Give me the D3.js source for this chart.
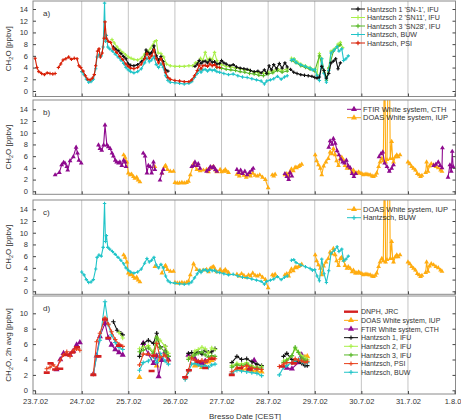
<!DOCTYPE html>
<html><head><meta charset="utf-8">
<script src="https://cdn.jsdelivr.net/npm/d3@7"></script>
<style>
body{margin:0;background:#fff}
text{font-family:"Liberation Sans",Arial,sans-serif;fill:#333}
</style></head>
<body><svg id="c" width="461" height="420"></svg>
<script>
// ---------- DATA (day offset from 23.7.02 00:00, value in ppbv); null = gap ----------
const dayLabels = ["23.7.02","24.7.02","25.7.02","26.7.02","27.7.02","28.7.02","29.7.02","30.7.02","31.7.02","1.8.02"];
const yTicksA = [0,2,4,6,8,10,12,14];
const yTicksD = [0,2,4,6,8,10];

// panel a
const psiA = [[0,5.6],[0.04,4.0],[0.08,3.3],[0.14,3.0],[0.2,2.8],[0.26,3.1],[0.32,3.0],[0.38,2.9],[0.43,3.0],null,
 [0.5,4.0],[0.55,4.6],[0.6,5.3],[0.66,5.5],[0.72,5.8],[0.78,5.4],[0.84,5.6],[0.9,5.5],[0.94,4.3],[0.98,4.0],[1.03,3.4],[1.08,2.6],[1.13,2.0],[1.18,1.9],[1.23,2.2],[1.27,2.8],[1.3,4.3],[1.34,6.8],[1.37,7.2],[1.4,5.8],[1.44,6.5],[1.48,9.0],[1.5,11.8],[1.53,9.0],[1.57,8.5],[1.62,8.3],[1.68,7.2],[1.75,6.6],[1.82,5.9],[1.88,5.4],[1.95,4.6],[2.0,4.2],[2.05,3.9],[2.12,3.8],[2.2,4.0],[2.28,4.6],[2.35,5.5],[2.4,6.4],[2.45,5.6],[2.5,6.0],[2.55,7.0],[2.6,5.5],[2.65,4.8],[2.7,5.5],[2.75,4.6],[2.8,3.2],[2.85,2.3],[2.9,2.0],[3.0,1.8],[3.1,1.7],[3.2,1.6],[3.3,1.6],[3.36,1.9],[3.42,2.6],[3.48,3.5],[3.52,4.4],[3.56,3.8],[3.6,4.3],[3.65,4.4],[3.7,4.2],[3.75,4.6],[3.8,4.3],[3.85,4.5],[3.9,4.1],[3.96,4.0]];
const buw = [[1.0,3.3],[1.05,2.8],[1.1,2.0],[1.15,1.5],[1.2,1.6],[1.25,2.0],[1.3,3.8],[1.33,5.8],[1.37,6.2],[1.42,6.0],[1.46,7.5],[1.49,15.0],[1.51,8.5],[1.53,9.5],[1.56,7.5],[1.6,7.2],[1.66,6.8],[1.72,6.3],[1.78,5.8],[1.84,5.3],[1.9,4.7],[1.95,4.0],[2.0,3.6],[2.05,3.3],[2.12,3.1],[2.2,3.3],[2.28,3.8],[2.35,4.8],[2.4,5.6],[2.45,5.0],[2.5,5.3],[2.55,5.8],[2.6,4.5],[2.65,4.0],[2.7,4.6],[2.75,4.0],[2.8,2.6],[2.85,1.8],[2.9,1.5],[3.0,1.4],[3.1,1.3],[3.2,1.2],[3.3,1.3],[3.36,1.6],[3.42,2.3],[3.48,3.0],[3.52,3.6],[3.56,3.2],[3.6,3.6],[3.65,3.7],[3.7,3.4],[3.75,3.7],[3.8,3.5],[3.85,3.6],[3.9,3.3],[3.96,3.2],[4.05,3.0],[4.15,2.8],[4.25,2.9],[4.35,2.6],[4.45,2.4],[4.55,2.3],[4.65,2.1],[4.75,1.9],[4.85,1.7],[4.92,1.2],[4.97,1.7],[5.05,1.9],[5.12,2.1],[5.2,2.5],[5.28,2.0],[5.35,2.4],[5.41,2.6],null,
 [5.5,5.3],[5.55,5.4],[5.6,4.9],[5.7,4.5],[5.8,4.2],[5.9,3.9],[5.95,3.6],[6.0,3.7],[6.05,2.6],[6.1,1.8],[6.15,5.5],[6.2,3.0],[6.25,1.5],[6.3,3.5],[6.35,6.5],[6.42,7.0],[6.48,7.6],[6.52,6.8],[6.58,7.2],[6.62,5.2],[6.67,5.5],[6.72,6.0]];
const h1A = [[1.68,7.5],[1.72,7.2],[1.78,6.9],[1.84,6.4],[1.9,5.9],[1.95,5.5],[2.0,4.6],[2.05,4.4],[2.12,4.3],[2.2,4.5],[2.28,5.0],[2.35,5.6],[2.38,7.0],[2.42,6.6],[2.46,6.3],[2.5,6.6],[2.55,7.7],[2.6,6.0],[2.65,5.3],[2.7,5.9],[2.75,5.0],[2.8,3.6],[2.85,3.4],null,
 [3.43,4.2],[3.48,4.6],[3.52,5.2],[3.56,4.7],[3.6,5.0],[3.65,5.1],[3.7,4.8],[3.75,5.3],[3.8,4.9],[3.85,5.0],[3.9,4.6],[3.96,4.7],[4.0,5.2],[4.05,4.8],[4.1,4.6],[4.18,4.3],[4.25,4.5],[4.32,4.1],[4.4,3.9],[4.48,3.8],[4.55,3.7],[4.62,3.5],[4.7,3.3],[4.78,3.4],[4.85,3.1],[4.92,3.6],[4.97,3.0],[5.02,4.3],[5.07,3.6],[5.12,4.5],[5.18,3.8],[5.24,4.7],[5.3,3.9],[5.36,4.8],[5.41,4.1],null,
 [5.48,3.7],[5.55,3.2],[5.62,3.0],[5.7,2.8],[5.78,2.7],[5.86,2.6],[5.94,2.5],[6.0,2.3],[6.05,2.2],[6.1,2.4],[6.15,4.2],[6.2,3.5],[6.25,2.2],[6.3,3.0],[6.35,4.8],[6.4,5.1],[6.45,5.5],[6.5,3.8],[6.55,4.8]];
const h2A = [[1.65,8.8],[1.7,8.2],[1.76,7.5],[1.82,7.0],[1.88,6.6],[1.94,6.2],[2.0,5.8],[2.06,5.6],[2.12,5.4],[2.2,5.3],[2.28,5.6],[2.35,6.3],[2.42,6.8],[2.48,7.3],[2.52,7.8],[2.56,8.4],[2.6,8.6],[2.64,6.5],[2.7,6.4],[2.76,5.8],[2.82,4.6],[2.9,4.3],[3.0,4.2],[3.1,4.2],[3.2,4.2],[3.3,4.3],[3.38,4.3],[3.44,4.8],[3.5,5.0],[3.55,5.6],[3.6,5.2],[3.65,6.6],[3.7,5.3],[3.75,5.6],[3.8,5.4],[3.85,6.6],[3.9,5.2],[3.95,4.6],[4.0,4.5],[4.1,4.2],[4.2,4.1],[4.3,3.9],[4.4,3.8],[4.5,3.6],[4.6,3.5],[4.7,3.2],[4.8,3.1],[4.9,3.0],[5.0,3.2],[5.1,3.4],[5.2,3.8],[5.3,3.5],[5.41,3.8],null,
 [5.5,5.6],[5.56,5.5],[5.62,5.0],[5.7,4.6],[5.8,4.3],[5.9,4.0],[6.0,3.7],[6.05,2.8],[6.1,6.4],[6.15,5.5],[6.2,3.5],[6.25,2.0],[6.3,4.0],[6.35,6.8],[6.42,7.2],[6.5,8.0],[6.55,8.3],[6.6,7.4]];
const h3A = [[3.9,4.0],[4.0,3.9],[4.1,3.7],[4.2,3.6],[4.3,3.5],[4.4,3.3],[4.5,3.2],[4.6,3.0],[4.7,2.9],[4.8,2.7],[4.9,2.6],[5.0,2.9],[5.1,3.1],[5.2,3.5],[5.3,3.2],[5.41,3.4],null,
 [5.5,5.2],[5.6,4.8],[5.7,4.3],[5.8,4.0],[5.9,3.7],[6.0,3.4],[6.1,6.0],[6.2,3.2],[6.25,1.8],[6.3,3.8],[6.4,6.8],[6.5,7.6],[6.55,7.9]];

// panels b, c
const doas = [[1.9,6.2],[1.93,5.8],[1.97,5.0],[2.0,3.1],[2.04,2.8],[2.07,2.9],[2.11,2.5],[2.14,2.2],[2.18,2.4],[2.21,1.9],[2.25,1.6],null,
 [2.57,4.2],null,[2.72,3.1],[2.78,4.2],[2.8,4.4],[2.84,3.7],[2.9,3.4],[2.97,3.4],null,
 [3.0,1.5],[3.05,1.4],[3.1,1.4],[3.15,1.5],[3.2,1.4],[3.25,1.5],[3.29,1.7],[3.33,2.8],[3.4,4.7],[3.47,3.7],[3.54,3.5],[3.61,3.6],[3.68,3.7],[3.72,3.3],[3.76,3.9],[3.8,4.1],[3.83,4.2],[3.87,3.6],[3.9,3.3],[3.97,3.7],[4.0,3.3],[4.04,3.4],[4.08,3.7],[4.11,3.4],[4.15,3.2],null,
 [4.33,2.9],[4.38,2.6],[4.43,3.0],[4.48,2.7],[4.53,2.4],[4.58,2.8],[4.62,2.6],[4.67,3.1],[4.72,2.7],[4.77,2.6],[4.82,2.8],[4.88,2.4],[4.94,2.0],[5.0,0.6],null,
 [5.09,2.8],[5.12,2.6],[5.15,2.9],null,
 [5.36,2.8],[5.4,3.0],[5.44,2.6],[5.47,3.3],[5.5,3.8],[5.54,3.5],[5.58,4.1],[5.61,4.0],[5.65,4.2],[5.68,4.4],[5.72,4.6],null,
 [6.01,6.2],[6.04,5.2],[6.08,4.5],[6.12,3.9],[6.15,2.8],[6.19,4.3],[6.24,5.0],[6.29,5.6],[6.33,6.7],[6.37,6.4],[6.4,7.3],[6.44,6.2],[6.47,5.2],[6.51,4.4],[6.55,5.6],[6.58,5.8],[6.62,5.3],[6.65,4.4],[6.69,3.9],[6.72,4.2],[6.76,3.9],[6.8,3.3],[6.83,3.6],[6.87,3.1],[6.9,3.1],[6.94,3.3],[6.97,3.1],[7.01,3.0],[7.04,2.8],[7.08,2.9],[7.12,2.9],[7.16,2.8],[7.19,2.8],[7.23,2.6],[7.26,2.5],[7.3,2.7],[7.33,3.1],[7.37,4.2],[7.4,5.0],[7.44,5.6],[7.47,5.2],[7.5,25],[7.52,5.0],[7.55,5.4],[7.58,25],[7.6,25],[7.62,5.6],[7.65,8.5],[7.67,5.6],[7.69,5.0],[7.73,5.9],[7.76,6.2],[7.79,5.9],[7.83,6.2],null,
 [8.0,5.0],[8.04,4.7],[8.08,4.2],[8.12,3.9],[8.16,3.6],[8.2,3.0],[8.24,2.8],[8.27,2.5],[8.3,2.7],null,
 [8.38,3.2],[8.4,5.0],[8.43,3.4],[8.46,4.3],[8.5,4.7],[8.55,4.5],[8.6,4.2],[8.65,4.0],[8.7,3.6],[8.73,3.4]];
const ftir = [[0.43,2.8],[0.52,3.2],[0.57,4.5],[0.61,4.9],[0.64,4.8],[0.68,4.2],[0.7,3.6],[0.75,5.2],[0.82,5.9],[0.88,7.5],[0.91,6.5],[0.94,5.3],[0.99,4.8],null,
 [1.36,7.9],[1.39,7.3],[1.43,7.0],[1.47,7.9],[1.5,11.3],[1.54,7.9],[1.57,7.6],[1.61,7.3],[1.65,6.5],[1.68,6.0],[1.72,5.3],[1.75,5.0],[1.79,4.8],[1.82,5.0],[1.86,4.4],[1.9,5.3],[1.93,5.0],[1.95,4.2],null,
 [2.32,6.5],[2.36,6.0],[2.4,3.1],[2.43,4.4],[2.47,4.2],[2.5,3.1],[2.54,5.0],[2.57,3.7],null,[2.68,1.9],[2.72,3.1],[2.75,3.7],null,
 [3.36,4.2],[3.4,4.4],[3.43,5.0],[3.47,4.4],[3.5,4.7],[3.54,3.9],null,[3.68,3.4],[3.72,3.7],[3.76,4.2],[3.8,4.0],[3.83,4.2],[3.87,3.7],[3.9,3.4],null,
 [4.33,3.7],[4.37,3.2],[4.41,3.6],[4.45,3.0],[4.5,3.4],[4.55,2.8],[4.6,3.2],[4.65,3.6],[4.68,3.9],null,
 [5.36,3.0],[5.4,2.5],[5.44,2.0],[5.47,3.2],[5.51,2.6],null,
 [6.3,7.5],[6.33,8.6],[6.37,8.0],[6.4,9.0],[6.44,8.2],[6.48,6.9],[6.52,6.2],[6.56,5.5],[6.6,5.0],[6.64,4.8],[6.68,5.3],[6.72,4.3],[6.76,4.0],[6.8,3.0],[6.84,2.5],[6.88,3.0],null,
 [7.38,5.9],[7.42,6.4],[7.46,6.7],[7.5,4.8],[7.55,4.2],[7.6,3.4],[7.65,3.9],[7.69,4.5],null,
 [8.55,4.4],[8.6,4.6],[8.65,5.0],[8.69,4.4],[8.73,4.0],[8.74,7.4],null,[8.86,2.4],[8.9,4.5],[8.93,3.4],[8.95,6.8],[8.97,4.2]];

// panel d (2h averages)
const dnphD = [[0.25,2.3],[0.33,3.5],[0.43,2.7],[0.54,2.8],[0.68,4.6],[0.8,4.9],[0.9,5.6],
 [1.25,2.0],[1.36,4.4],[1.5,9.2],[1.57,6.8],[1.8,5.8],[2.5,2.5],[2.56,4.5],
 [3.22,1.7],[3.3,2.6],[3.5,3.7],[3.65,2.9],[3.8,4.1],[4.22,2.0],[4.4,2.9],[4.6,2.7],[5.3,3.1],[5.55,3.5]];
const doasD = [[2.24,1.7],null,[2.61,3.2],[2.68,4.0],[2.79,4.8],null,
 [3.43,3.2],[3.5,3.3],[3.58,3.0],[3.65,3.6],[3.72,3.7],[3.79,3.9],null,
 [4.33,2.8],[4.43,2.7],[4.54,2.8],[4.65,2.6],[4.76,2.5],[4.86,2.4],null,
 [5.58,3.8],[5.72,4.0],[5.79,4.3],[5.84,4.4]];
const ftirD = [[0.46,2.7],[0.54,4.0],[0.61,4.8],[0.75,4.6],[0.82,5.1],[0.89,5.9],[0.96,6.2],null,
 [1.25,2.1],[1.32,4.5],[1.39,7.0],[1.5,8.7],[1.57,6.8],[1.64,5.9],[1.72,5.3],[1.8,4.9],[1.88,4.6],null,
 [2.32,6.1],[2.43,4.7],[2.54,3.5],[2.61,4.5],[2.65,1.8],[2.72,3.9],[2.79,5.0],[2.86,4.0],null,
 [3.29,4.6],[3.36,4.4],[3.43,4.1],[3.5,3.6],[3.58,3.5],[3.65,3.8],null,
 [4.6,2.8],[4.7,3.9],[4.76,2.9],null,
 [5.4,2.9],[5.51,2.8],[5.65,3.6],[5.72,4.6],[5.79,3.8]];
const h1D = [[1.68,8.9],[1.76,7.8],[1.84,7.4],[1.88,7.2],null,
 [2.24,4.4],[2.32,6.1],[2.43,6.5],[2.54,6.1],[2.61,7.4],[2.68,5.6],[2.79,5.7],[2.86,4.4],null,
 [3.29,4.8],[3.36,4.9],[3.43,4.8],[3.5,5.0],[3.58,4.7],[3.65,5.2],[3.72,4.9],[3.79,5.0],[3.86,5.4],null,
 [4.22,3.6],[4.33,4.4],[4.43,4.0],[4.54,4.1],[4.65,3.7],[4.76,3.4],[4.86,3.2],null,
 [5.33,4.4],[5.4,4.8],[5.51,4.0],[5.58,3.8],[5.65,3.8],[5.72,3.5],[5.79,3.2],[5.84,3.2]];
const h2D = [[1.8,7.5],[1.88,6.8],null,
 [2.24,5.4],[2.32,5.6],[2.43,5.8],[2.54,5.0],[2.61,6.9],[2.68,6.5],[2.79,5.7],[2.86,4.8],null,
 [3.29,4.2],[3.36,4.4],[3.43,5.1],[3.5,5.3],[3.58,5.6],[3.65,5.4],[3.72,4.8],[3.79,5.5],[3.86,5.3],null,
 [4.22,3.2],[4.33,3.5],[4.43,3.4],[4.54,3.6],[4.65,3.2],[4.76,3.0],[4.86,3.1],null,
 [5.33,3.8],[5.4,4.0],[5.51,4.5],[5.58,5.4],[5.65,5.0],[5.72,4.5],[5.79,4.2],[5.84,4.0]];
const h3D = [[2.24,5.0],[2.32,5.2],[2.43,5.5],[2.54,4.8],[2.61,6.8],[2.68,5.6],[2.79,5.0],[2.86,4.4],null,
 [3.29,4.0],[3.36,4.3],[3.43,4.6],[3.5,4.8],[3.58,5.0],[3.65,4.6],[3.72,4.3],[3.79,4.5],[3.86,4.4],null,
 [4.22,3.0],[4.33,3.3],[4.43,3.2],[4.54,3.4],[4.65,3.0],[4.76,2.9],[4.86,2.9],null,
 [5.33,3.6],[5.4,3.9],[5.51,4.5],[5.58,5.6],[5.65,4.9],[5.72,4.2],[5.79,3.9],[5.84,3.8]];
const psiD = [[0.25,2.8],[0.32,3.0],[0.39,3.3],[0.46,2.9],[0.54,3.9],[0.61,4.6],[0.68,5.0],[0.75,4.4],[0.82,5.2],[0.89,5.4],[0.96,5.2],null,
 [1.25,2.1],[1.32,6.3],[1.39,7.4],[1.5,9.4],[1.57,8.6],[1.64,7.6],[1.72,6.6],[1.8,6.0],[1.88,5.7],null,
 [2.24,3.3],[2.32,4.7],[2.43,4.7],[2.54,4.4],[2.61,6.1],[2.68,4.3],[2.79,4.5],[2.86,3.8],null,
 [3.22,1.6],[3.29,2.6],[3.36,4.2],[3.43,3.9],[3.5,3.8],[3.58,3.9],[3.65,3.7],[3.72,4.0],[3.79,4.2],[3.86,4.1],null,
 [4.22,2.4],[4.33,2.9],[4.43,3.0],[4.54,3.2],[4.65,2.9],[4.76,2.8],[4.86,2.7],null,
 [5.24,3.1],[5.33,3.4],[5.4,3.6],[5.51,3.6],[5.58,4.1],[5.65,3.9],[5.72,3.8],[5.79,3.6],[5.84,3.7]];
const buwD = [[1.25,2.1],[1.32,4.4],[1.39,6.5],[1.5,11.5],[1.57,8.5],[1.64,7.2],[1.72,6.2],[1.8,5.6],[1.88,5.3],null,
 [2.24,2.6],[2.32,3.6],[2.43,3.8],[2.54,4.4],[2.61,3.6],[2.68,4.8],[2.79,3.8],[2.86,3.4],null,
 [3.22,1.4],[3.29,2.4],[3.36,3.4],[3.43,3.5],[3.5,3.3],[3.58,3.1],[3.65,3.2],[3.72,3.0],[3.79,3.3],[3.86,3.4],null,
 [4.22,2.2],[4.33,2.6],[4.43,2.5],[4.54,2.4],[4.65,2.3],[4.76,2.2],[4.86,1.9],null,
 [5.24,2.0],[5.33,3.0],[5.4,3.2],[5.51,3.6],[5.58,3.8],[5.65,4.0],[5.72,3.7],[5.79,3.5],[5.84,3.6]];

// ---------- STYLES ----------
const C = {black:"#111111", lgreen:"#a8f048", green:"#58b828", cyan:"#20c4c8", red:"#d81e05",
           psiD:"#e8401c", purple:"#8e0a8e", orange:"#ffac10", dnph:"#d42020"};

const svg = d3.select("#c");
const x = d3.scaleLinear().domain([-0.045, 9.02]).range([33, 455.5]);

const panels = [
 {key:"a", top:1, bottom:96.5, y:d3.scaleLinear().domain([0,14]).range([91,9]), ticks:yTicksA,
  title:"CH2O", legX:351, legY:9, legDy:8.5, legFont:7.1, legGap:16,
  series:[
   {name:"Hantzsch 1 'SN-1', IFU", data:h1A, color:C.black, mk:"plus"},
   {name:"Hantzsch 2 'SN11', IFU", data:h2A, color:C.lgreen, mk:"plus"},
   {name:"Hantzsch 3 'SN28', IFU", data:h3A, color:C.green, mk:"plus"},
   {name:"Hantzsch, BUW", data:buw, color:C.cyan, mk:"plus"},
   {name:"Hantzsch, PSI", data:psiA, color:C.red, mk:"plus"}],
  order:[1,2,3,0,4]},
 {key:"b", top:100, bottom:194.3, y:d3.scaleLinear().domain([0,14]).range([191.3,109.3]), ticks:yTicksA,
  title:"CH2O", legX:347, legY:109.3, legDy:8.4, legFont:7.5, legGap:16,
  series:[
   {name:"FTIR White system, CTH", data:ftir, color:C.purple, mk:"tri"},
   {name:"DOAS White system, IUP", data:doas, color:C.orange, mk:"tri"}],
  order:[1,0]},
 {key:"c", top:200, bottom:294.3, y:d3.scaleLinear().domain([0,14]).range([291.3,209.3]), ticks:yTicksA,
  title:"CH2O", legX:347, legY:209.3, legDy:8.4, legFont:7.5, legGap:16,
  series:[
   {name:"DOAS White system, IUP", data:doas, color:C.orange, mk:"tri"},
   {name:"Hantzsch, BUW", data:buw, color:C.cyan, mk:"plus"}],
  order:[0,1]},
 {key:"d", top:296, bottom:394, y:d3.scaleLinear().domain([0,10]).range([390.3,313.3]), ticks:yTicksD,
  title:"CH2O2h", legX:344, legY:311.7, legDy:8.65, legFont:7.0, legGap:17,
  series:[
   {name:"DNPH, JRC", data:dnphD, color:C.dnph, mk:"bar"},
   {name:"DOAS White system, IUP", data:doasD, color:C.orange, mk:"tri", big:true},
   {name:"FTIR White system, CTH", data:ftirD, color:C.purple, mk:"tri", big:true},
   {name:"Hantzsch 1, IFU", data:h1D, color:C.black, mk:"plus", big:true},
   {name:"Hantzsch 2, IFU", data:h2D, color:C.lgreen, mk:"plus", big:true},
   {name:"Hantzsch 3, IFU", data:h3D, color:C.green, mk:"plus", big:true},
   {name:"Hantzsch, PSI", data:psiD, color:C.psiD, mk:"plus", big:true},
   {name:"Hantzsch, BUW", data:buwD, color:C.cyan, mk:"plus", big:true}],
  order:[1,2,3,4,5,7,6,0]}
];

const x0 = 33, x1 = 455.5;

function marker(g, type, cx, cy, color, big){
  if(type==="plus"){
    const a = big?2.2:1.7;
    g.append("path").attr("d",`M${cx-a},${cy}H${cx+a}M${cx},${cy-a}V${cy+a}`)
     .attr("stroke",color).attr("stroke-width",1.1).attr("fill","none");
  } else if(type==="tri"){
    g.append("path").attr("d", d3.symbol(d3.symbolTriangle, big?16:10)())
     .attr("transform",`translate(${cx},${cy})`).attr("fill",color);
  } else if(type==="bar"){
    g.append("path").attr("d",`M${cx-3},${cy}H${cx+3}`).attr("stroke",color).attr("stroke-width",2.6);
  }
}

panels.forEach((p,pi)=>{
  const g = svg.append("g");
  const y = p.y;
  g.append("g").selectAll("line").data(d3.range(1,9)).join("line")
   .attr("x1",d=>x(d)).attr("x2",d=>x(d)).attr("y1",p.top).attr("y2",p.bottom)
   .attr("stroke","#c4c4c4").attr("stroke-width",1);
  svg.append("clipPath").attr("id","clip"+p.key).append("rect")
   .attr("x",x0).attr("y",p.top).attr("width",x1-x0).attr("height",p.bottom-p.top);
  const plot = g.append("g").attr("clip-path",`url(#clip${p.key})`);
  const line = d3.line().defined(d=>d!==null).x(d=>x(d[0])).y(d=>y(d[1]));
  p.order.forEach(si=>{
    const s = p.series[si];
    const sg = plot.append("g");
    if(s.mk!=="bar"){
      sg.append("path").attr("d",line(s.data)).attr("fill","none")
        .attr("stroke",s.color).attr("stroke-width",1.1);
    }
    s.data.forEach(d=>{ if(d) marker(sg, s.mk, x(d[0]), y(d[1]), s.color, s.big); });
  });
  g.append("rect").attr("x",x0).attr("y",p.top).attr("width",x1-x0).attr("height",p.bottom-p.top)
   .attr("fill","none").attr("stroke","#8a8a8a").attr("stroke-width",1);
  const ax = g.append("g").attr("transform",`translate(${x0},0)`)
   .call(d3.axisLeft(y).tickValues(p.ticks).tickSize(-3).tickPadding(5).tickFormat(d3.format("d")));
  ax.select(".domain").remove();
  ax.selectAll("line").attr("stroke","#444");
  ax.selectAll("text").style("font-size","7.5px").attr("fill","#333");
  const axr = g.append("g").attr("transform",`translate(${x1},0)`)
   .call(d3.axisRight(y).tickValues(p.ticks).tickSize(-3).tickFormat(""));
  axr.select(".domain").remove(); axr.selectAll("line").attr("stroke","#444");
  const axb = g.append("g").attr("transform",`translate(0,${p.bottom})`)
   .call(d3.axisBottom(x).tickValues(d3.range(0,10)).tickSize(-3).tickPadding(5)
     .tickFormat(pi===3 ? (d=>dayLabels[d]) : ""));
  axb.select(".domain").remove(); axb.selectAll("line").attr("stroke","#444");
  axb.selectAll("text").style("font-size","7.5px").attr("fill","#333");
  g.append("text").attr("x",43).attr("y",p.top+14.5).style("font-size","8px").text(p.key+")");
  const cy = (p.top+p.bottom)/2;
  const t = g.append("text").attr("transform",`translate(11,${cy}) rotate(-90)`)
   .attr("text-anchor","middle").style("font-size","8px");
  t.append("tspan").text("CH");
  t.append("tspan").text("2").style("font-size","5.5px").attr("dy","2");
  if(p.title==="CH2O2h"){
    t.append("tspan").text("O, 2h avg [ppbv]").attr("dy","-2");
  } else {
    t.append("tspan").text("O [ppbv]").attr("dy","-2");
  }
  const lg = g.append("g");
  p.series.forEach((s,i)=>{
    const ly = p.legY + i*p.legDy;
    const lx = p.legX;
    if(s.mk==="bar"){
      lg.append("line").attr("x1",lx).attr("x2",lx+14).attr("y1",ly).attr("y2",ly)
        .attr("stroke",s.color).attr("stroke-width",2.4);
    } else {
      lg.append("line").attr("x1",lx).attr("x2",lx+14).attr("y1",ly).attr("y2",ly)
        .attr("stroke",s.color).attr("stroke-width",1);
      marker(lg, s.mk, lx+7, ly, s.color, true);
    }
    lg.append("text").attr("x",lx+p.legGap).attr("y",ly+2.6).style("font-size",p.legFont+"px").text(s.name);
  });
});

svg.append("text").attr("x",245).attr("y",418.5).attr("text-anchor","middle")
  .style("font-size","8px").text("Bresso Date [CEST]");
</script>
</body></html>
